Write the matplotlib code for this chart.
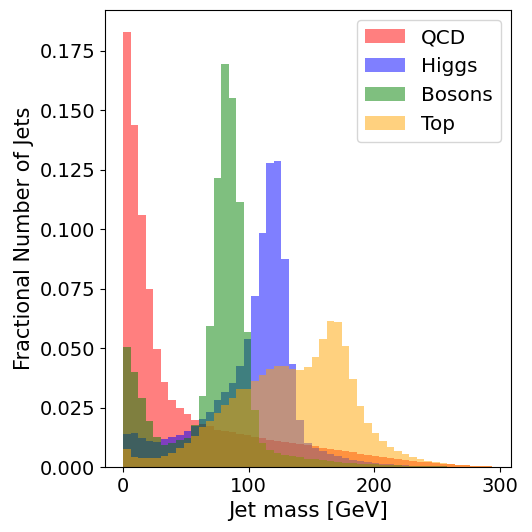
import matplotlib
matplotlib.use('Agg')
import matplotlib.pyplot as plt
import numpy as np

# bin edges: 6 GeV bins from 0 to 294 GeV
edges = np.arange(0, 295, 6)
centers = (edges[:-1] + edges[1:]) / 2

qcd = [0.183, 0.144, 0.106, 0.0749, 0.0496, 0.0357, 0.0282, 0.025, 0.0222, 0.0198,
       0.018, 0.0173, 0.0158, 0.0152, 0.0146, 0.0140, 0.0134, 0.0128, 0.0122, 0.0116,
       0.0111, 0.0106, 0.0102, 0.0098, 0.0093, 0.0087, 0.0082, 0.0077, 0.0072, 0.0067,
       0.0062, 0.0057, 0.0052, 0.0048, 0.0044, 0.0040, 0.0035, 0.0031, 0.0027, 0.0023,
       0.0020, 0.0017, 0.0014, 0.0012, 0.0010, 0.0008, 0.0006, 0.0005, 0.0004]

higgs = [0.0139, 0.0142, 0.0124, 0.0110, 0.0107, 0.0117, 0.0128, 0.0135, 0.0152, 0.0174,
         0.0201, 0.0233, 0.0282, 0.0315, 0.0353, 0.0423, 0.0538, 0.0720, 0.0983, 0.1277,
         0.1288, 0.0874, 0.0432, 0.0198, 0.0100, 0.0079, 0.0066, 0.0055, 0.0046, 0.0038,
         0.0031, 0.0026, 0.0021, 0.0017, 0.0014, 0.0011, 0.0009, 0.0007, 0.0006, 0.0005,
         0.0004, 0.0003, 0.0003, 0.0002, 0.0002, 0.0002, 0.0001, 0.0001, 0.0001]

bosons = [0.0504, 0.0399, 0.0290, 0.0195, 0.0128, 0.0093, 0.0100, 0.0114, 0.0124, 0.0176,
          0.0299, 0.0594, 0.1214, 0.1694, 0.1550, 0.1113, 0.0566, 0.0240, 0.0100, 0.0070,
          0.0060, 0.0052, 0.0046, 0.0041, 0.0036, 0.0032, 0.0028, 0.0025, 0.0022, 0.0019,
          0.0017, 0.0015, 0.0013, 0.0011, 0.0010, 0.0008, 0.0007, 0.0006, 0.0005, 0.0004,
          0.0004, 0.0003, 0.0003, 0.0002, 0.0002, 0.0002, 0.0001, 0.0001, 0.0001]

top = [0.0075, 0.0044, 0.0037, 0.0039, 0.0040, 0.0046, 0.0058, 0.0079, 0.0100, 0.0130,
       0.0170, 0.0195, 0.0226, 0.0263, 0.0292, 0.0327, 0.0330, 0.0360, 0.0388, 0.0412,
       0.0423, 0.0426, 0.0412, 0.0409, 0.0420, 0.0462, 0.0539, 0.0615, 0.0610, 0.0510,
       0.0370, 0.0257, 0.0184, 0.0145, 0.0110, 0.0086, 0.0069, 0.0054, 0.0043, 0.0034,
       0.0027, 0.0021, 0.0016, 0.0013, 0.0010, 0.0008, 0.0006, 0.0005, 0.0004]

labels = ['QCD', 'Higgs', 'Bosons', 'Top']
colors = ['red', 'blue', 'green', 'orange']

fig = plt.figure(figsize=(5.32, 5.32), dpi=100)
ax = fig.add_axes([0.197, 0.122, 0.763, 0.859])
for vals, lab, col in zip([qcd, higgs, bosons, top], labels, colors):
    ax.hist(centers, bins=edges, weights=vals, alpha=0.5, color=col, label=lab)

ax.set_xlabel('Jet mass [GeV]', fontsize=15.5)
ax.set_ylabel('Fractional Number of Jets', fontsize=15)
ax.tick_params(labelsize=14)
ax.set_xticks([0, 100, 200, 300])
ax.legend(fontsize=14.4, loc='upper right')

fig.savefig('out.png', dpi=100)
